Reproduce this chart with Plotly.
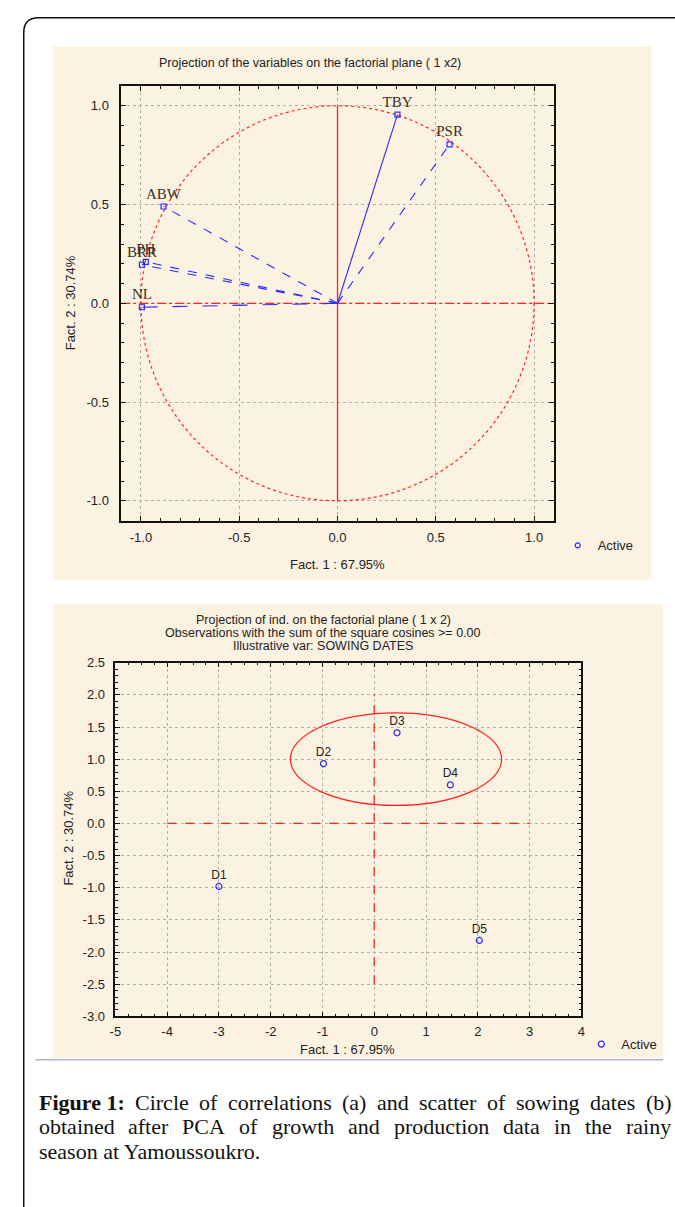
import plotly.graph_objects as go

# ---------------- data ----------------
var_names = ["TBY", "PSR", "ABW", "PH", "BRR", "NL"]
var_f1 = [0.305, 0.57, -0.885, -0.975, -0.995, -0.995]
var_f2 = [0.955, 0.805, 0.49, 0.21, 0.195, -0.02]
var_dash = ["solid", "dash", "dash", "dash", "dash", "longdash"]

top_ticks = [-1.0, -0.5, 0.0, 0.5, 1.0]
top_ticktext = ["-1.0", "-0.5", "0.0", "0.5", "1.0"]

obs_names = ["D1", "D2", "D3", "D4", "D5"]
obs_f1 = [-3.0, -0.98, 0.44, 1.47, 2.03]
obs_f2 = [-0.98, 0.93, 1.41, 0.60, -1.82]

bot_xticks = [-5, -4, -3, -2, -1, 0, 1, 2, 3, 4]
bot_xticktext = ["-5", "-4", "-3", "-2", "-1", "0", "1", "2", "3", "4"]
bot_yticks = [2.5, 2.0, 1.5, 1.0, 0.5, 0.0, -0.5, -1.0, -1.5, -2.0, -2.5, -3.0]
bot_yticktext = ["2.5", "2.0", "1.5", "1.0", "0.5", "0.0", "-0.5", "-1.0", "-1.5", "-2.0", "-2.5", "-3.0"]

group_ellipse = [-1.62, 2.46, 0.28, 1.72]   # x0, x1, y0, y1

caption_lines = [
    "<b>Figure 1:</b> Circle of correlations (a) and scatter of sowing dates (b)",
    "obtained after PCA of growth and production data in the rainy",
    "season at Yamoussoukro.",
]

# ---------------- layout helpers ----------------
W, H = 675, 1207
def px(x):
    return x / W
def py(y):
    return 1 - y / H

BLUE = "#2a2aff"
RED = "#ff2222"
GRID = "#b0b0b0"
SANS = "Arial, Liberation Sans, sans-serif"
SERIF = "Liberation Serif, Times New Roman, serif"

fig = go.Figure()

# ---- top chart: vectors from origin
for n, x, y, d in zip(var_names, var_f1, var_f2, var_dash):
    fig.add_trace(go.Scatter(x=[0, x], y=[0, y], mode="lines",
                             line=dict(color=BLUE, width=1.1, dash=d),
                             showlegend=False, hoverinfo="skip",
                             xaxis="x", yaxis="y"))
fig.add_trace(go.Scatter(x=var_f1, y=var_f2, mode="markers+text", text=var_names,
                         textposition="top center",
                         textfont=dict(family=SERIF, size=15, color="#3a3020"),
                         marker=dict(symbol="square-open", size=5, color=BLUE,
                                     line=dict(width=1.2, color=BLUE)),
                         name="Active", legend="legend", showlegend=False,
                         xaxis="x", yaxis="y"))
fig.add_trace(go.Scatter(x=[None], y=[None], mode="markers", name="Active",
                         marker=dict(symbol="circle-open", size=5, color=BLUE,
                                     line=dict(width=1.2, color=BLUE)),
                         legend="legend", showlegend=True, xaxis="x", yaxis="y"))

# ---- bottom chart
fig.add_trace(go.Scatter(x=obs_f1, y=obs_f2, mode="markers+text", text=obs_names,
                         textposition="top center",
                         textfont=dict(family=SANS, size=12, color="#222"),
                         marker=dict(symbol="circle-open", size=6, color=BLUE,
                                     line=dict(width=1.2, color=BLUE)),
                         name="Active", legend="legend2", showlegend=True,
                         xaxis="x2", yaxis="y2"))

shapes = []
# beige panels
shapes.append(dict(type="rect", xref="paper", yref="paper", x0=px(48), x1=px(655),
                   y0=py(580), y1=py(40), fillcolor="#fcf2e2", line=dict(width=0), layer="below"))
shapes.append(dict(type="rect", xref="paper", yref="paper", x0=px(48), x1=px(667),
                   y0=py(1064), y1=py(605), fillcolor="#fcf2e2", line=dict(width=0), layer="below"))
shapes.append(dict(type="line", xref="paper", yref="paper", x0=px(30), x1=px(667),
                   y0=py(1066), y1=py(1066), line=dict(color="#b8b0c8", width=1.5)))
# outer frame
shapes.append(dict(type="path", xref="paper", yref="paper",
                   path=f"M {px(18)},{py(1220)} L {px(18)},{py(26)} Q {px(18)},{py(11)} {px(33)},{py(11)} L {px(680)},{py(11)}",
                   line=dict(color="#111", width=1.5)))
# unit circle and axes in top chart
shapes.append(dict(type="circle", xref="x", yref="y", x0=-1, x1=1, y0=-1, y1=1,
                   line=dict(color=RED, width=1.2, dash="dot"), layer="between"))
shapes.append(dict(type="line", xref="x", yref="y", x0=-1.1, x1=1.1, y0=0, y1=0,
                   line=dict(color=RED, width=1.2, dash="dashdot"), layer="between"))
shapes.append(dict(type="line", xref="x", yref="y", x0=0, x1=0, y0=-1, y1=1,
                   line=dict(color=RED, width=1.3), layer="between"))
# bottom chart reference lines and ellipse
shapes.append(dict(type="line", xref="x2", yref="y2", x0=-4, x1=3, y0=0, y1=0,
                   line=dict(color=RED, width=1.3, dash="dash"), layer="above"))
shapes.append(dict(type="line", xref="x2", yref="y2", x0=0, x1=0, y0=-2.5, y1=2.0,
                   line=dict(color=RED, width=1.3, dash="dash"), layer="above"))
shapes.append(dict(type="circle", xref="x2", yref="y2",
                   x0=group_ellipse[0], x1=group_ellipse[1], y0=group_ellipse[2], y1=group_ellipse[3],
                   line=dict(color=RED, width=1.2), layer="between"))

ann = []
def text(x, y, s, size=13, family=SANS, color="#222", xanchor="center", angle=0, yanchor="middle"):
    ann.append(dict(xref="paper", yref="paper", x=px(x), y=py(y), text=s, showarrow=False,
                    font=dict(family=family, size=size, color=color), xanchor=xanchor,
                    yanchor=yanchor, textangle=angle))

text(309, 57, "Projection of the variables on the factorial plane ( 1 x2)", size=12.5)
text(336, 565, "Fact. 1 : 67.95%")
text(65, 300, "Fact. 2 : 30.74%", angle=-90)
text(322, 621, "Projection of ind. on the factorial plane ( 1 x 2)", size=12.5)
text(322, 634, "Observations with the sum of the square cosines >= 0.00", size=12.5)
text(322, 647, "Illustrative var: SOWING DATES", size=12.5)
text(347, 1056, "Fact. 1 : 67.95%")
text(63, 842, "Fact. 2 : 30.74%", angle=-90)

# caption with justified lines (Times metrics)
reg = {'a':444,'b':500,'c':444,'d':500,'e':444,'f':333,'g':500,'h':500,'i':278,'j':278,'k':500,
       'l':278,'m':778,'n':500,'o':500,'p':500,'q':500,'r':333,'s':389,'t':278,'u':500,'v':500,
       'w':722,'x':500,'y':500,'z':444,'(':333,')':333,':':278,'.':250,'1':500,'C':667,'P':556,
       'A':722,'F':556,'Y':722,' ':250}
bld = {'F':611,'i':278,'g':500,'u':556,'r':444,'e':444,'1':500,':':333,' ':250}
CAP = 22
def wordw(w):
    if w.startswith("<b>"):
        s = w.replace("<b>", "").replace("</b>", "")
        return sum(bld.get(c, 500) for c in s) * CAP / 1000
    return sum(reg.get(c, 500) for c in w) * CAP / 1000

cap_y = [1109, 1134, 1159]
LEFT, RIGHT = 31, 673
for i, line in enumerate(caption_lines):
    if i < 2:
        words = line.replace("<b>Figure 1:</b>", "<b>Figure\u00a01:</b>").split(" ")
        widths = [wordw(w.replace("\u00a0", " ")) for w in words]
        gap = (RIGHT - LEFT - sum(widths)) / (len(words) - 1)
        x = LEFT
        for w, ww in zip(words, widths):
            text(x, cap_y[i], w, size=CAP, family=SERIF, color="#111", xanchor="left")
            x += ww + gap
    else:
        text(LEFT, cap_y[i], line, size=CAP, family=SERIF, color="#111", xanchor="left")

axis_common = dict(showline=True, linecolor="#111", linewidth=1.5, mirror="allticks",
                   ticks="inside", ticklen=5, tickcolor="#111", showgrid=True,
                   gridcolor=GRID, griddash="dot", gridwidth=1, zeroline=False,
                   tickfont=dict(family=SANS, size=13, color="#222"))

fig.update_layout(
    width=W, height=H, autosize=False,
    margin=dict(l=0, r=0, t=0, b=0),
    paper_bgcolor="white", plot_bgcolor="white",
    shapes=shapes, annotations=ann,
    xaxis=dict(domain=[px(117), px(556)], range=[-1.1, 1.1], tickvals=top_ticks,
               ticktext=top_ticktext, anchor="y", ticklabelstandoff=4,
               minor=dict(ticks="inside", dtick=0.1, ticklen=3, tickcolor="#111", showgrid=False),
               **axis_common),
    yaxis=dict(domain=[py(520), py(80)], range=[-1.1, 1.1], tickvals=top_ticks,
               ticktext=top_ticktext, anchor="x", ticklabelstandoff=8,
               minor=dict(ticks="inside", dtick=0.1, ticklen=3, tickcolor="#111", showgrid=False),
               **axis_common),
    xaxis2=dict(domain=[px(111), px(584)], range=[-5, 4], tickvals=bot_xticks,
                ticktext=bot_xticktext, anchor="y2", ticklabelstandoff=2,
                minor=dict(ticks="inside", dtick=0.25, ticklen=3, tickcolor="#111", showgrid=False),
                **axis_common),
    yaxis2=dict(domain=[py(1022), py(664)], range=[-3, 2.5], tickvals=bot_yticks,
                ticktext=bot_yticktext, anchor="x2", ticklabelstandoff=6,
                minor=dict(ticks="inside", dtick=0.1, ticklen=3, tickcolor="#111", showgrid=False),
                **axis_common),
    legend=dict(x=px(560), y=py(530), xanchor="left", yanchor="top",
                bgcolor="rgba(0,0,0,0)", font=dict(family=SANS, size=13, color="#222")),
    legend2=dict(x=px(584), y=py(1035), xanchor="left", yanchor="top",
                 bgcolor="rgba(0,0,0,0)", font=dict(family=SANS, size=13, color="#222")),
)

fig.write_html("out.html", config={"displayModeBar": False},
               post_script="document.body.style.margin='0';document.body.style.overflow='hidden';")
